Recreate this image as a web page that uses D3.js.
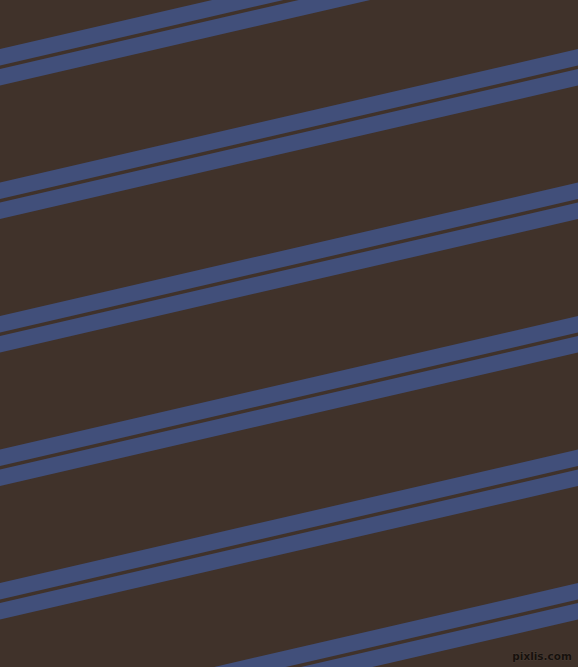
<!DOCTYPE html>
<html>
<head>
<meta charset="utf-8">
<script src="https://cdn.jsdelivr.net/npm/d3@7"></script>
<style>
  html, body { margin: 0; padding: 0; background: #40322a; }
  svg { display: block; }
</style>
</head>
<body>
<svg id="chart" width="578" height="667"></svg>
<script>
// top edge of each double stripe where it meets the left border (px)
var groupStarts = [-84.5, 49, 182.5, 316, 449.5, 583, 716.5];
// the two lines inside a group, measured down from the group's top edge
var lineOffsets = [8.25, 28.25];
// rise of the stripes over the full width
var rise = 133.5;

var width = 578, height = 667;
var svg = d3.select("#chart");

var x = d3.scaleLinear().domain([0, 1]).range([0, width]);
var y = d3.scaleLinear().domain([0, height]).range([0, height]);

svg.append("rect")
  .attr("width", width)
  .attr("height", height)
  .attr("fill", "#40322a");

var lines = [];
groupStarts.forEach(function(g) {
  lineOffsets.forEach(function(o) {
    lines.push(g + o);
  });
});

var line = d3.line()
  .x(function(d) { return x(d[0]); })
  .y(function(d) { return y(d[1]); });

var angle = Math.atan(rise / width);

svg.append("g")
  .selectAll("path")
  .data(lines)
  .enter().append("path")
  .attr("d", function(d) {
    return line([[-0.05, d + rise * 0.05], [1.05, d - rise * 1.05]]);
  })
  .attr("fill", "none")
  .attr("stroke", "#414f7a")
  .attr("stroke-width", 16.5 * Math.cos(angle));

svg.append("text")
  .attr("x", 572)
  .attr("y", 660)
  .attr("text-anchor", "end")
  .attr("font-family", "DejaVu Sans, sans-serif")
  .attr("font-size", 10.5)
  .attr("font-weight", "bold")
  .attr("fill", "#17110d")
  .attr("stroke", "#574c44")
  .attr("stroke-width", 0.4)
  .attr("paint-order", "stroke")
  .text("pixlis.com");
</script>
</body>
</html>
